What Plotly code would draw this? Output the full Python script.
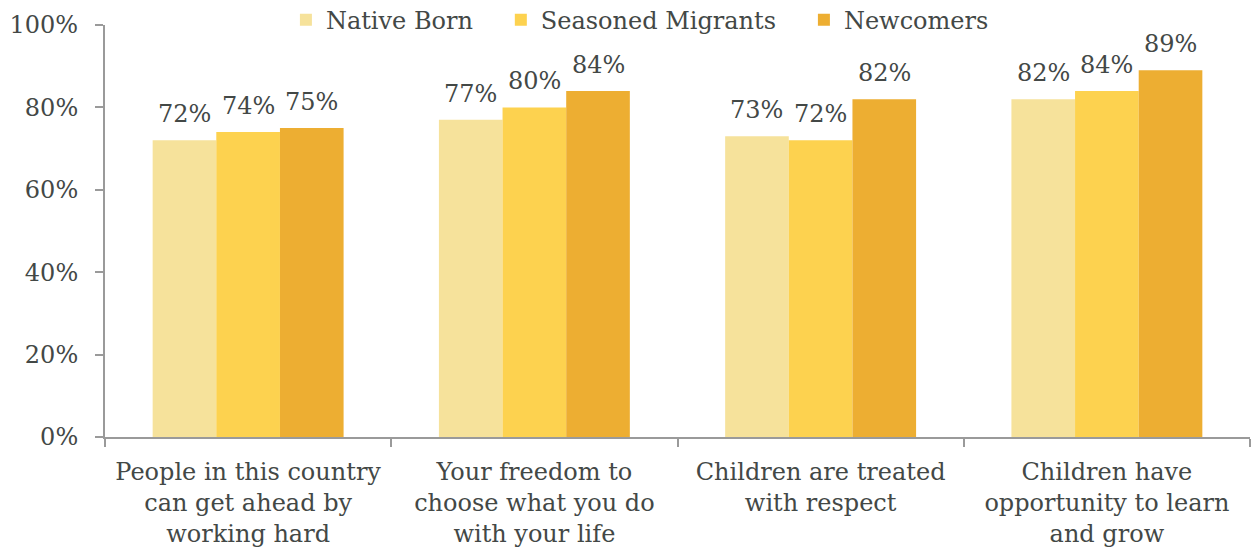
import plotly.graph_objects as go

categories = [
    "People in this country<br>can get ahead by<br>working hard",
    "Your freedom to<br>choose what you do<br>with your life",
    "Children are treated<br>with respect",
    "Children have<br>opportunity to learn<br>and grow",
]
native_born = [72, 77, 73, 82]
seasoned_migrants = [74, 80, 72, 84]
newcomers = [75, 84, 82, 89]

series = [
    ("Native Born", native_born, "#F6E29B"),
    ("Seasoned Migrants", seasoned_migrants, "#FDD24F"),
    ("Newcomers", newcomers, "#EDAE32"),
]

text_color = "#434846"
font_family = "DejaVu Serif"
bar_gap = 0.333
bar_width = (1 - bar_gap) / len(series)
legend_pad = "\u00a0" * 3  # extra room between legend entries

fig = go.Figure()
for s_idx, (name, vals, color) in enumerate(series):
    fig.add_trace(go.Bar(
        name=name + (legend_pad if s_idx < len(series) - 1 else ""),
        x=categories,
        y=vals,
        marker=dict(color=color, line=dict(width=0)),
    ))
    # value labels above each bar
    offset = (s_idx - (len(series) - 1) / 2) * bar_width
    for c_idx, v in enumerate(vals):
        fig.add_annotation(
            x=c_idx + offset, y=v,
            xref="x", yref="y",
            text=f"{v}%",
            showarrow=False,
            yanchor="bottom",
            yshift=10,
            font=dict(size=24, color=text_color, family=font_family),
        )

fig.update_layout(
    barmode="group",
    bargap=bar_gap,
    bargroupgap=0,
    width=1252,
    height=552,
    margin=dict(l=105, r=2, t=25, b=115, autoexpand=False),
    paper_bgcolor="white",
    plot_bgcolor="white",
    font=dict(family=font_family, color=text_color, size=24),
    legend=dict(
        orientation="h",
        x=0.158, xanchor="left",
        y=1.012, yanchor="middle",
        font=dict(size=24, color=text_color),
        itemwidth=30,
        traceorder="normal",
        bgcolor="rgba(0,0,0,0)",
    ),
)

fig.update_xaxes(
    showline=True,
    linecolor="#9a9a9a",
    linewidth=2,
    ticks="outside",
    tickson="boundaries",
    ticklen=8,
    tickcolor="#9a9a9a",
    tickwidth=2,
    tickfont=dict(size=24, color=text_color),
    ticklabelstandoff=12,
    showgrid=False,
)

fig.update_yaxes(
    range=[0, 100],
    tickvals=[0, 20, 40, 60, 80, 100],
    ticktext=["0%", "20%", "40%", "60%", "80%", "100%"],
    showline=True,
    linecolor="#9a9a9a",
    linewidth=2,
    ticks="outside",
    ticklen=8,
    tickcolor="#9a9a9a",
    tickwidth=2,
    tickfont=dict(size=24, color=text_color),
    ticklabelstandoff=12,
    showgrid=False,
    zeroline=False,
)

fig.write_html("out.html")
